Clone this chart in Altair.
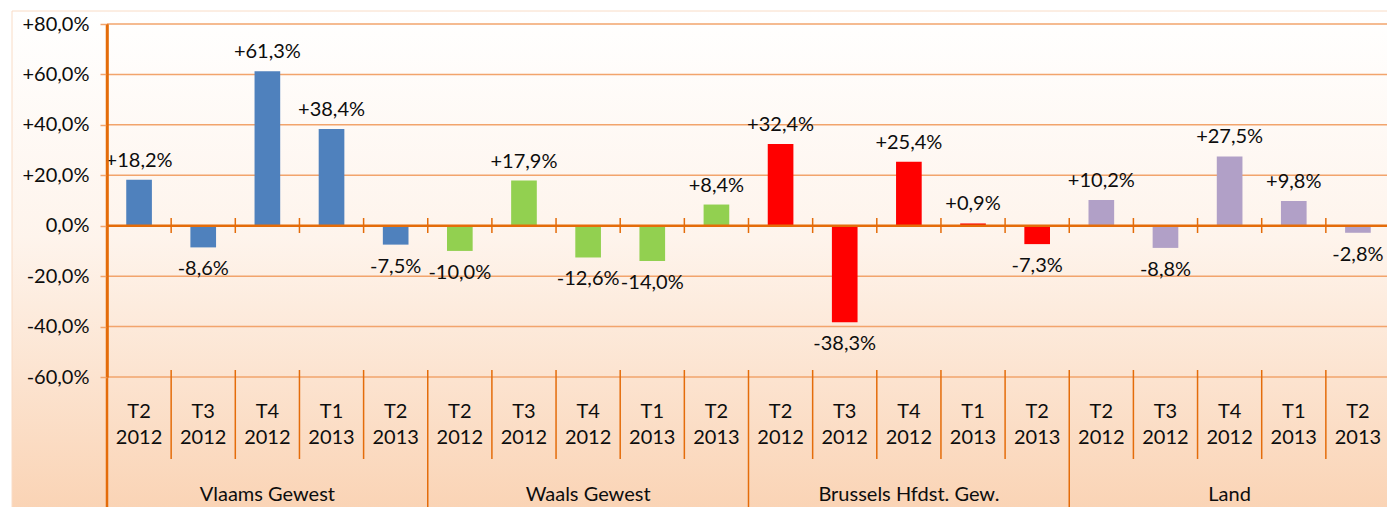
import altair as alt
import pandas as pd

regions = ["Vlaams Gewest", "Waals Gewest", "Brussels Hfdst. Gew.", "Land"]
quarters = ["T2", "T3", "T4", "T1", "T2"]
years = ["2012", "2012", "2012", "2013", "2013"]
vlaams = [18.2, -8.6, 61.3, 38.4, -7.5]
waals = [-10.0, 17.9, -12.6, -14.0, 8.4]
brussels = [32.4, -38.3, 25.4, 0.9, -7.3]
land = [10.2, -8.8, 27.5, 9.8, -2.8]
bar_colors = ["#4F81BD", "#92D050", "#FF0000", "#B1A0C7"]
y_ticks = [-60, -40, -20, 0, 20, 40, 60, 80]

FONT = "Lato"
FS = 20
GRID = "#F2A46C"
DARK = "#E46C0A"
TXT = "#0d0d0d"

series = [vlaams, waals, brussels, land]
rows = []
i = 0
for r, vals in zip(regions, series):
    for q, yv, v in zip(quarters, years, vals):
        lab = ("+" if v > 0 else "-" if v < 0 else "") + f"{abs(v):.1f}".replace(".", ",") + "%"
        rows.append({"idx": i, "region": r, "quarter": q, "year": yv, "value": v, "label": lab})
        i += 1
df = pd.DataFrame(rows)

n = len(df)
bounds = pd.DataFrame({"b": list(range(n + 1))})
bounds["group"] = bounds["b"] % 5 == 0
grid_df = pd.DataFrame({"y": [t for t in y_ticks if t != 0]})
reg_df = pd.DataFrame({"region": regions, "pos": [k * 5 + 2.5 for k in range(len(regions))]})

xs = alt.Scale(domain=[0, n], range=[0, 1283], nice=False, zero=False)
ys = alt.Scale(domain=[-60, 80], range=[353, 0], nice=False, zero=False)

label_expr = ("(datum.value > 0 ? '+' : datum.value < 0 ? '-' : '') + "
              "replace(format(abs(datum.value), '.1f'), '.', ',') + '%'")
y_axis = alt.Axis(
    values=y_ticks, title=None, labelExpr=label_expr, labelFont=FONT,
    labelFontSize=FS, labelColor=TXT, labelPadding=11,
    tickColor=GRID, tickSize=7, tickWidth=1.5,
    domainColor=DARK, domainWidth=2.5, grid=False, zindex=1,
)

bg = alt.Chart(pd.DataFrame({"a": [0]})).mark_rect(
    color=alt.Gradient(
        gradient="linear",
        stops=[
            alt.GradientStop(color="#FFFFFF", offset=0),
            alt.GradientStop(color="#FEF4EC", offset=0.45),
            alt.GradientStop(color="#FAD3B4", offset=1),
        ],
        x1=0, x2=0, y1=0, y2=1,
    ),
    stroke="#F9DCC6", strokeWidth=1,
).encode(x=alt.value(-95), x2=alt.value(1300), y=alt.value(-13), y2=alt.value(490))

grid = alt.Chart(grid_df).mark_rule(color=GRID, strokeWidth=1.5).encode(
    y=alt.Y("y:Q", scale=ys, axis=y_axis),
)

bars = alt.Chart(df).transform_calculate(
    x0="datum.idx + 0.3", x1="datum.idx + 0.7"
).mark_bar().encode(
    x=alt.X("x0:Q", scale=xs, axis=None),
    x2="x1:Q",
    y=alt.Y("value:Q", scale=ys, axis=y_axis),
    y2=alt.datum(0),
    color=alt.Color("region:N", scale=alt.Scale(domain=regions, range=bar_colors), legend=None),
)

zero = alt.Chart(pd.DataFrame({"y": [0]})).mark_rule(color=DARK, strokeWidth=2.5).encode(
    y=alt.Y("y:Q", scale=ys, axis=y_axis)
)

zero_ticks = alt.Chart(bounds).mark_rule(color=DARK, strokeWidth=1.5).encode(
    x=alt.X("b:Q", scale=xs, axis=None), y=alt.value(194), y2=alt.value(209)
)

seps = alt.Chart(bounds).transform_filter("!datum.group").mark_rule(color=DARK, strokeWidth=1.5).encode(
    x=alt.X("b:Q", scale=xs, axis=None), y=alt.value(346), y2=alt.value(435)
)
gseps = alt.Chart(bounds).transform_filter("datum.group").mark_rule(color=DARK, strokeWidth=1.5).encode(
    x=alt.X("b:Q", scale=xs, axis=None), y=alt.value(346), y2=alt.value(495)
)
left_line = alt.Chart(pd.DataFrame({"b": [0]})).mark_rule(color=DARK, strokeWidth=2.5).encode(
    x=alt.X("b:Q", scale=xs, axis=None), y=alt.value(0), y2=alt.value(495)
)

pos_lab = alt.Chart(df).transform_filter("datum.value >= 0").transform_calculate(
    c="datum.idx + 0.5"
).mark_text(font=FONT, fontSize=FS, color=TXT, baseline="middle", dy=-19).encode(
    x=alt.X("c:Q", scale=xs, axis=None), y=alt.Y("value:Q", scale=ys, axis=y_axis), text="label:N"
)
neg_lab = alt.Chart(df).transform_filter("datum.value < 0").transform_calculate(
    c="datum.idx + 0.5"
).mark_text(font=FONT, fontSize=FS, color=TXT, baseline="middle", dy=22).encode(
    x=alt.X("c:Q", scale=xs, axis=None), y=alt.Y("value:Q", scale=ys, axis=y_axis), text="label:N"
)

q_lab = alt.Chart(df).transform_calculate(c="datum.idx + 0.5").mark_text(
    font=FONT, fontSize=FS, color=TXT, baseline="middle"
).encode(x=alt.X("c:Q", scale=xs, axis=None), y=alt.value(388), text="quarter:N")
y_lab = alt.Chart(df).transform_calculate(c="datum.idx + 0.5").mark_text(
    font=FONT, fontSize=FS, color=TXT, baseline="middle"
).encode(x=alt.X("c:Q", scale=xs, axis=None), y=alt.value(414), text="year:N")
r_lab = alt.Chart(reg_df).mark_text(
    font=FONT, fontSize=FS, color=TXT, baseline="middle"
).encode(x=alt.X("pos:Q", scale=xs, axis=None), y=alt.value(471), text="region:N")

chart = alt.layer(
    bg, grid, bars, zero, zero_ticks, seps, gseps, left_line, pos_lab, neg_lab, q_lab, y_lab, r_lab
).properties(
    width=1280, height=483,
    autosize=alt.AutoSizeParams(type="none"),
    padding={"left": 99, "top": 16, "right": 0, "bottom": 0},
    background="#FFFFFF",
).configure_view(stroke=None)

chart.save("out.html", embed_options={"renderer": "svg", "actions": False})
